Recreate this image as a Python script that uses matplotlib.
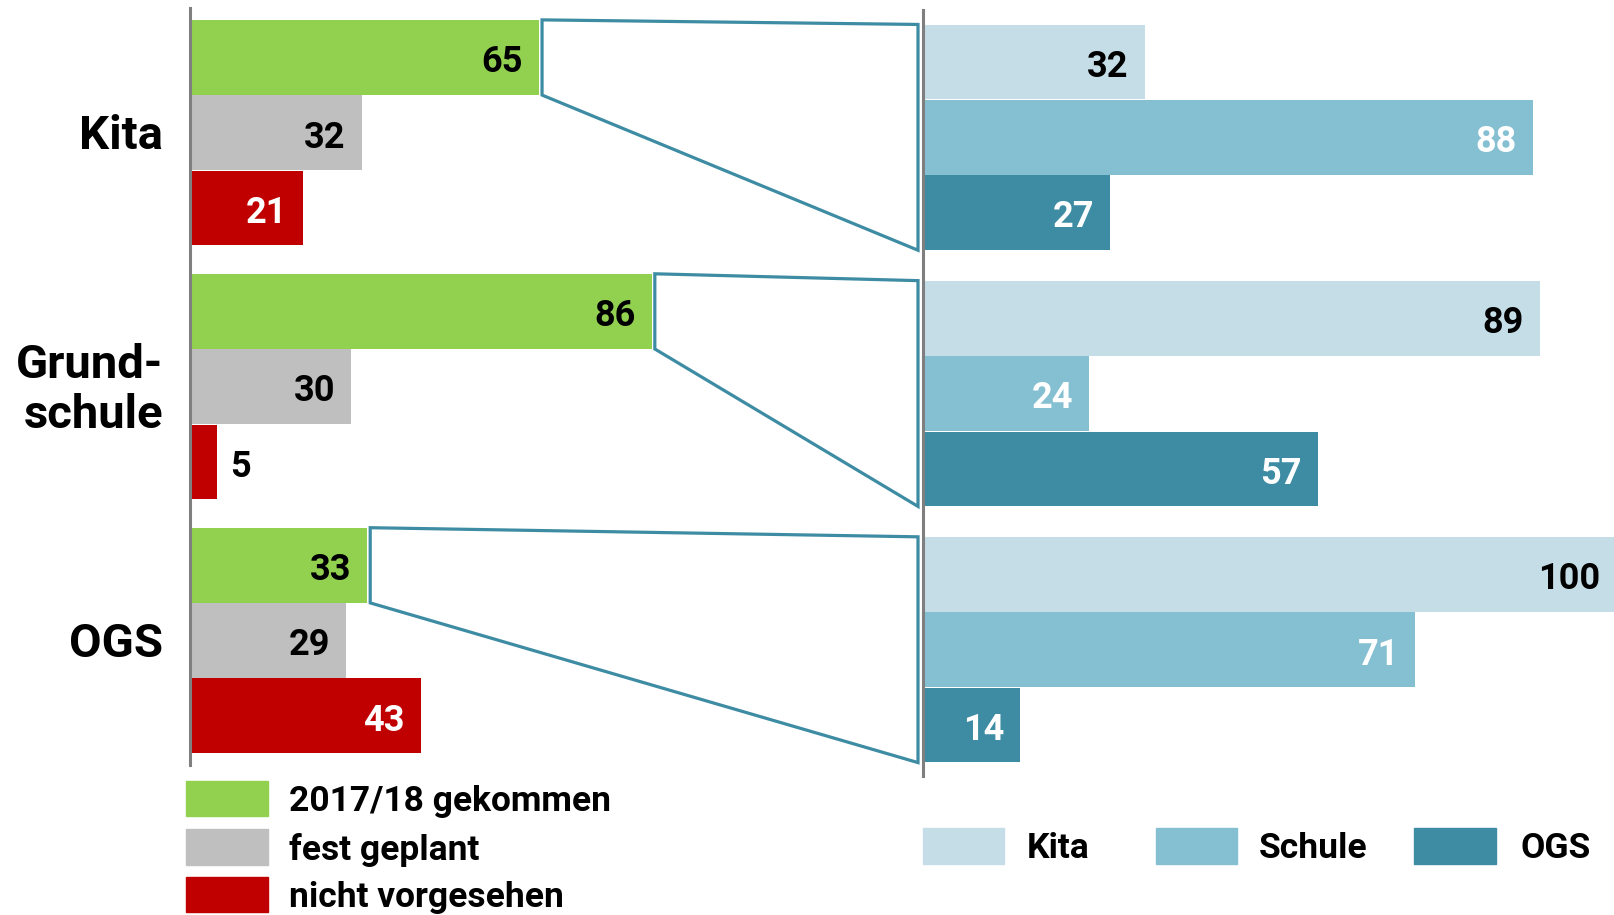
import matplotlib
matplotlib.use("Agg")
import matplotlib.pyplot as plt
from matplotlib.patches import Rectangle, Polygon
from matplotlib.transforms import blended_transform_factory

plt.rcParams['font.family'] = ['Roboto', 'DejaVu Sans']
plt.rcParams['font.weight'] = 'bold'

# ---------------- data ----------------
categories = ["Kita", "Grund-\nschule", "OGS"]
left_series = ["2017/18 gekommen", "fest geplant", "nicht vorgesehen"]
left_values = {
    "2017/18 gekommen": [65, 86, 33],
    "fest geplant": [32, 30, 29],
    "nicht vorgesehen": [21, 5, 43],
}
right_series = ["Kita", "Schule", "OGS"]
right_values = {
    "Kita": [32, 89, 100],
    "Schule": [88, 24, 71],
    "OGS": [27, 57, 14],
}
left_colors = ["#92D050", "#BFBFBF", "#C00000"]
left_label_colors = ["black", "black", "white"]
right_colors = ["#C5DDE7", "#85BFD2", "#3D8CA3"]
right_label_colors = ["black", "white", "white"]
connector_color = "#3D8CA3"
axis_color = "#7F7F7F"

# ---------------- layout ----------------
W, H = 1615, 915
fig = plt.figure(figsize=(W / 100, H / 100), dpi=100)


def fx(px):
    return px / W


def fy(py):
    return 1 - py / H


# left axes: x 190 .. 727 px, y 8 .. 765 px
axL = fig.add_axes([fx(190), fy(765), fx(537), (765 - 8) / H])
# right axes: x 923 .. 1615 px, y 10 .. 776 px
axR = fig.add_axes([fx(923), fy(776), fx(693), (776 - 10) / H])

L_GROUP = 3.377
R_GROUP = 3.404

for ax, ylim in ((axL, (9.41, -0.658)), (axR, (9.486, -0.692))):
    ax.set_xlim(0, 100)
    ax.set_ylim(*ylim)
    for s in ("top", "right", "bottom"):
        ax.spines[s].set_visible(False)
    ax.spines["left"].set_color(axis_color)
    ax.spines["left"].set_linewidth(2.2)
    ax.spines["left"].set_zorder(5)
    ax.set_xticks([])
    ax.set_yticks([])
    ax.patch.set_alpha(0)

FS_VAL = 26
DY = -3.5  # vertical nudge of value labels (points)


def draw_bars(ax, series, values, colors, label_colors, group):
    for k, name in enumerate(series):
        ys = [g * group + k for g in range(len(categories))]
        vals = values[name]
        ax.barh(ys, vals, height=0.99, color=colors[k], zorder=2)
        for y, v in zip(ys, vals):
            if v < 10:
                ax.annotate(str(v), (v, y), xytext=(9.5, DY), textcoords="offset points",
                            ha="left", va="center", fontsize=FS_VAL,
                            fontweight="bold", color="black", zorder=6)
            else:
                ax.annotate(str(v), (v, y), xytext=(-11.5, DY), textcoords="offset points",
                            ha="right", va="center", fontsize=FS_VAL,
                            fontweight="bold", color=label_colors[k], zorder=6)


draw_bars(axL, left_series, left_values, left_colors, left_label_colors, L_GROUP)
draw_bars(axR, right_series, right_values, right_colors, right_label_colors, R_GROUP)

# category labels
trans = blended_transform_factory(fig.transFigure, axL.transData)
for g, cat in enumerate(categories):
    axL.text(fx(163), g * L_GROUP + 1 + 0.05, cat, transform=trans, ha="right",
             va="center", fontsize=34, fontweight="bold", color="black",
             linespacing=1.17, clip_on=False)

# connectors
fig.canvas.draw()
inv = fig.transFigure.inverted()
first = left_series[0]
for g in range(len(categories)):
    v = left_values[first][g]
    yl = g * L_GROUP
    yr = g * R_GROUP
    p1 = axL.transData.transform((v, yl - 0.5))
    p2 = axR.transData.transform((0, yr - 0.5))
    p3 = axR.transData.transform((0, yr + 2.5))
    p4 = axL.transData.transform((v, yl + 0.5))
    p1[0] += 3
    p4[0] += 3
    p2[0] -= 5
    p3[0] -= 5
    pts = [inv.transform(p) for p in (p1, p2, p3, p4)]
    fig.patches.append(Polygon(pts, closed=True, fill=False, edgecolor=connector_color,
                               linewidth=2.3, transform=fig.transFigure, zorder=4))

# left legend
leg_tops = [780.7, 829.2, 876.5]
for k, name in enumerate(left_series):
    fig.patches.append(Rectangle((fx(186.4), fy(leg_tops[k] + 35.5)), fx(81.4), 35.5 / H,
                                 color=left_colors[k], transform=fig.transFigure))
    fig.text(fx(289), fy(leg_tops[k] + 20.5), name, ha="left", va="center",
             fontsize=25.5, fontweight="bold", color="black")

# right legend
rx = [922.9, 1155.7, 1414.4]
tx = [1027, 1259, 1521]
for k, name in enumerate(right_series):
    fig.patches.append(Rectangle((fx(rx[k]), fy(864)), fx(81.4), 36 / H,
                                 color=right_colors[k], transform=fig.transFigure))
    fig.text(fx(tx[k]), fy(848), name, ha="left", va="center",
             fontsize=25.5, fontweight="bold", color="black")

fig.savefig("out.png", dpi=100, facecolor="white")
